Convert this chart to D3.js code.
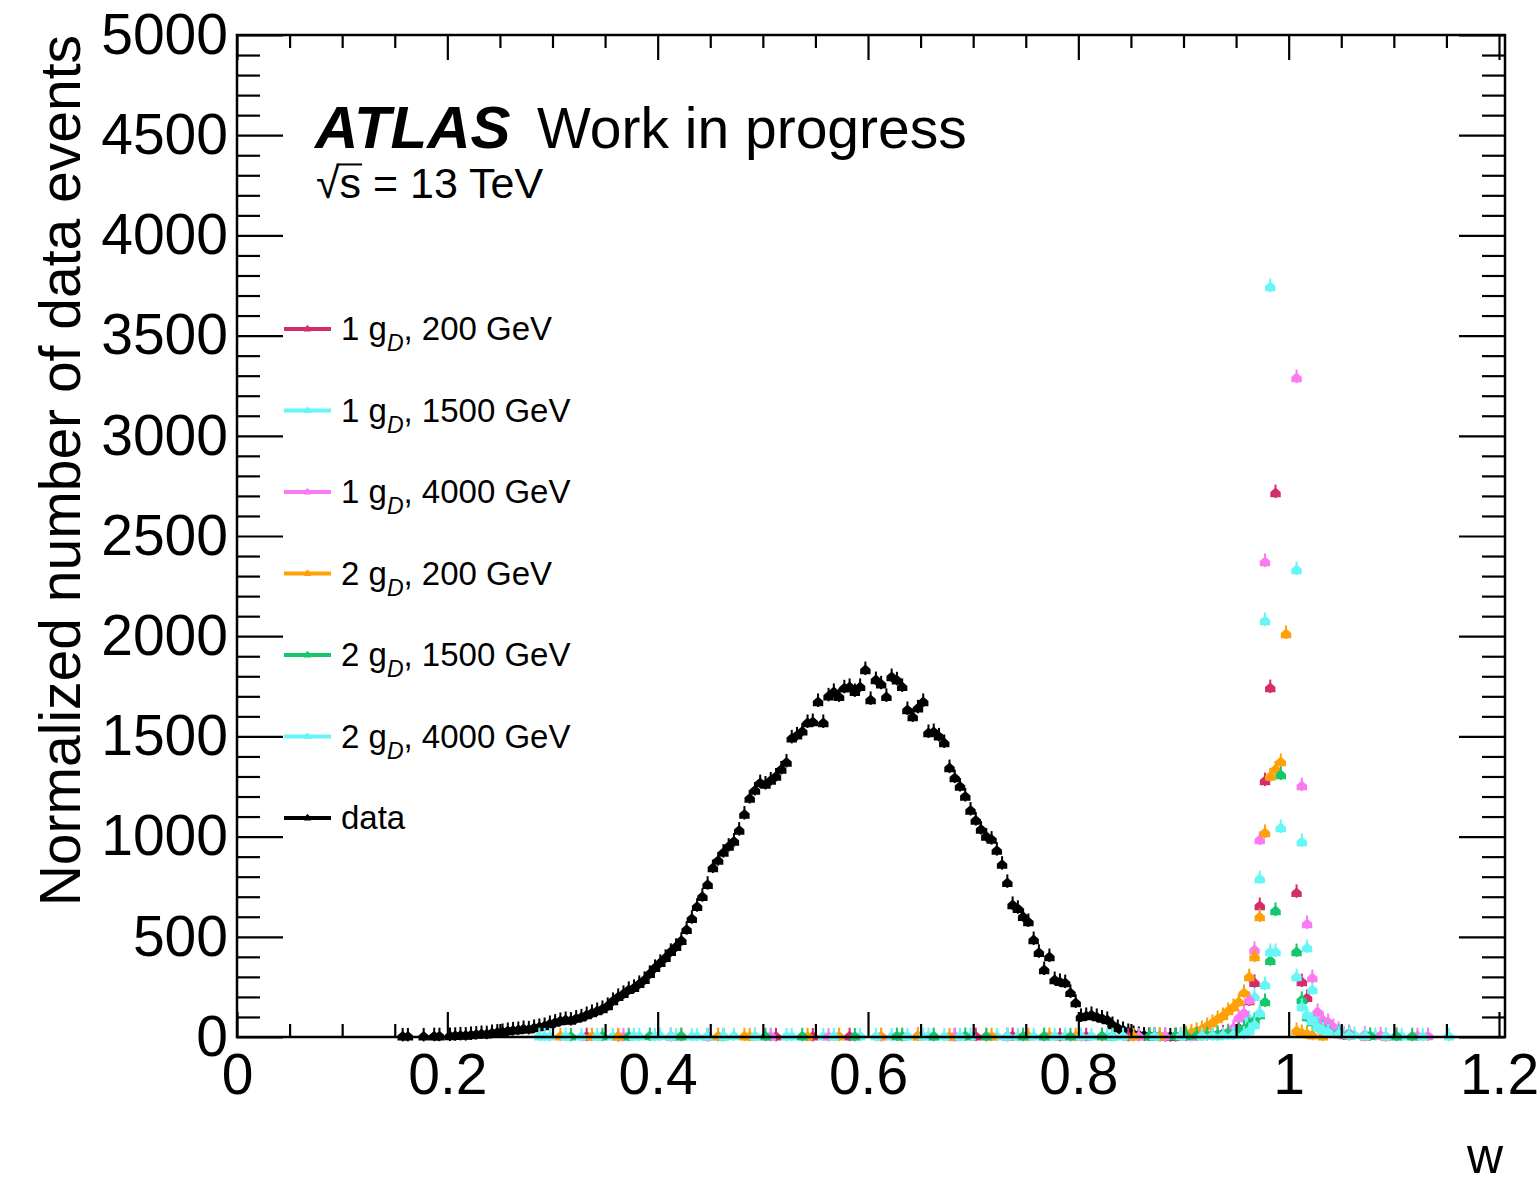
<!DOCTYPE html>
<html><head><meta charset="utf-8">
<script src="https://cdn.jsdelivr.net/npm/d3@7"></script>
<style>
body{margin:0;background:#fff}
svg{display:block;background:#fff}
text{font-family:"Liberation Sans",Arial,Helvetica,sans-serif;fill:#000}
</style>
</head><body>
<svg id="c" width="1538" height="1188"></svg>
<script>
// ---------------- data ----------------
const binWidth = 0.005;
const dataStart = 0.1575;   // centre of first data bin
const dataValues = [
  3,3,0,0,3,0,4,4,0,5, 6,8,7,10,12,15,14,20,22,25,
  30,33,35,40,38,45,50,55,65,72, 80,85,82,92,98,110,120,130,140,155,
  180,200,215,235,245,265,285,315,345,370, 395,425,450,480,535,590,650,700,760,843,
  880,920,950,975,1030,1110,1190,1230,1267,1260, 1280,1300,1335,1370,1490,1505,1525,1567,1572,1672,
  1567,1700,1722,1697,1740,1747,1722,1747,1831,1682, 1781,1760,1697,1796,1780,1747,1632,1597,1640,1672,
  1517,1522,1500,1467,1342,1292,1250,1200,1130,1080, 1035,1000,985,930,860,769,659,640,600,574,
  484,420,334,399,284,275,269,220,170,100, 105,110,100,92,85,60,45,35,25,15,
  10,7,5,5,4,4,3,3
];

// signal samples: [bin centre w, normalized events]; bins above 5000 are off-scale and not listed
const sig1g200 = [
  [0.3325,4],[0.3625,3],[0.4125,4],[0.4475,3],[0.5125,3],[0.5475,3],[0.5825,4],[0.6475,5],[0.6825,3],[0.7025,4],
  [0.7325,4],[0.7375,5],[0.7825,3],[0.8075,4],[0.8475,3],[0.8825,3],[0.8925,4],[0.8975,5],[0.9075,4],[0.9175,6],
  [0.9275,10],[0.9375,18],[0.9475,30],[0.9525,45],[0.9575,100],[0.9625,180],[0.9675,270],[0.9725,654],[0.9775,1277],[0.9825,1741],
  [0.9875,2714],[1.0075,719],[1.0125,274],[1.0175,195],[1.0225,80],[1.0275,60],[1.0325,40],[1.0375,30],[1.0425,22],[1.0475,15],
  [1.0525,10],[1.0575,8],[1.0725,4],[1.0925,3]
];
const sig1g1500 = [
  [0.2875,4],[0.2975,3],[0.3275,3],[0.3575,4],[0.3825,4],[0.4025,5],[0.4175,3],[0.4375,4],[0.4575,3],[0.4725,5],
  [0.5075,4],[0.5275,3],[0.5575,4],[0.5925,4],[0.6225,3],[0.6575,5],[0.6625,4],[0.6975,4],[0.7225,4],[0.7425,3],
  [0.7675,4],[0.7875,5],[0.8125,4],[0.8275,4],[0.8575,3],[0.8775,3],[0.9075,4],[0.9175,5],[0.9325,5],[0.9425,10],
  [0.9525,20],[0.9575,40],[0.9625,90],[0.9675,200],[0.9725,788],[0.9775,2076],[0.9825,3742],[1.0075,2330],[1.0125,973],[1.0175,444],
  [1.0225,235],[1.0275,95],[1.0325,60],[1.0375,40],[1.0425,25],[1.0525,15],[1.0625,10],[1.0825,6],[1.1075,4],[1.1525,3]
];
const sig1g4000 = [
  [0.3675,3],[0.4125,3],[0.5075,4],[0.5625,3],[0.6125,3],[0.6825,4],[0.7325,4],[0.8025,3],[0.8575,3],[0.8825,4],
  [0.9025,4],[0.9125,5],[0.9225,6],[0.9325,10],[0.9425,25],[0.9475,45],[0.9525,95],[0.9575,120],[0.9625,185],[0.9675,434],
  [0.9725,983],[0.9775,2370],[1.0075,3288],[1.0125,1252],[1.0175,564],[1.0225,294],[1.0275,125],[1.0325,85],[1.0375,75],[1.0425,50],
  [1.0475,35],[1.0575,20],[1.0725,12],[1.0875,8],[1.1025,6],[1.1225,5],[1.1325,5]
];
const sig2g200 = [
  [0.3075,4],[0.3375,4],[0.3625,3],[0.4225,5],[0.4575,4],[0.4825,4],[0.4875,3],[0.4925,4],[0.5425,3],[0.5725,4],
  [0.6125,4],[0.6325,3],[0.6475,4],[0.6775,3],[0.7125,5],[0.7175,4],[0.7525,4],[0.7725,5],[0.7975,4],[0.8225,4],
  [0.8525,3],[0.8775,3],[0.8975,6],[0.9025,15],[0.9075,22],[0.9125,30],[0.9175,40],[0.9225,55],[0.9275,70],[0.9325,90],
  [0.9375,105],[0.9425,130],[0.9475,150],[0.9525,175],[0.9575,220],[0.9625,299],[0.9675,399],[0.9725,599],[0.9775,1018],[0.9825,1300],
  [0.9875,1335],[0.9925,1372],[0.9975,2011],[1.0075,30],[1.0125,20],[1.0175,15],[1.0225,8],[1.0325,4]
];
const sig2g1500 = [
  [0.3175,3],[0.3475,4],[0.3725,4],[0.3925,5],[0.4225,4],[0.4625,3],[0.5025,4],[0.5375,4],[0.5875,3],[0.6275,5],
  [0.6325,4],[0.6625,4],[0.6925,5],[0.7125,3],[0.7475,4],[0.7675,4],[0.7925,3],[0.8225,5],[0.8325,4],[0.8675,4],
  [0.8925,5],[0.9025,6],[0.9125,8],[0.9225,10],[0.9325,14],[0.9425,20],[0.9525,30],[0.9575,40],[0.9625,55],[0.9675,80],
  [0.9725,110],[0.9775,175],[0.9825,380],[0.9875,629],[0.9925,1307],[1.0075,424],[1.0125,185],[1.0175,100],[1.0225,75],[1.0275,50],
  [1.0325,40],[1.0375,30],[1.0475,20],[1.0575,12],[1.0775,6],[1.1025,4],[1.1175,4]
];
const sig2g4000 = [
  [0.2925,3],[0.3125,4],[0.3425,4],[0.3775,4],[0.3975,3],[0.4125,4],[0.4325,3],[0.4475,4],[0.4625,4],[0.4925,4],
  [0.5225,3],[0.5675,4],[0.6075,3],[0.6375,4],[0.6525,4],[0.6725,3],[0.6875,4],[0.7325,3],[0.7575,4],[0.7775,4],
  [0.8025,4],[0.8325,3],[0.8425,4],[0.8725,4],[0.8975,5],[0.9175,5],[0.9275,6],[0.9375,8],[0.9475,10],[0.9575,12],
  [0.9625,30],[0.9675,60],[0.9725,120],[0.9775,259],[0.9825,424],[0.9875,424],[0.9925,1043],[1.0075,299],[1.0125,150],[1.0175,110],
  [1.0225,80],[1.0275,50],[1.0325,35],[1.0375,25],[1.0475,15],[1.0575,10],[1.0725,6],[1.0925,5],[1.1275,3]
];

const couplings = ["1","1","1","2","2","2"];
const masses = ["200 GeV","1500 GeV","4000 GeV","200 GeV","1500 GeV","4000 GeV"];
const seriesColors = ["#d22d6d","#66f6f6","#fb7af3","#ffa007","#15c66d","#66f6f6"];
const xTickValues = [0,0.2,0.4,0.6,0.8,1,1.2];
const xTickLabels = ["0","0.2","0.4","0.6","0.8","1","1.2"];
const yTickValues = [0,500,1000,1500,2000,2500,3000,3500,4000,4500,5000];
const yTickLabels = ["0","500","1000","1500","2000","2500","3000","3500","4000","4500","5000"];
const xTitle = "w";
const yTitle = "Normalized number of data events";

// ---------------- drawing ----------------
const svg = d3.select("#c");
const L = 237, R = 1505, T = 35, B = 1037;
const x = d3.scaleLinear().domain([0, 1.2057]).range([L, R]);
const y = d3.scaleLinear().domain([0, 5000]).range([B, T]);

const signalSets = [sig1g200, sig1g1500, sig1g4000, sig2g200, sig2g1500, sig2g4000];
const dataPts = dataValues.map((v,i)=>[dataStart + i*binWidth, v]).filter(d=>d[1]>0);

const plot = svg.append("g");
// ROOT-like small "full triangle" marker as rendered (house-shaped blob)
const markerPath = "M0,-5.5L5.2,-1L5.2,4.2L-5.2,4.2L-5.2,-1Z";
const legendMarker = "M0,-4L3.5,-0.5L3.5,2.5L-3.5,2.5L-3.5,-0.5Z";

function drawSeries(pts, color){
  const g = plot.append("g");
  const vis = pts.filter(d=>d[1] > 0 && d[1] <= 5000);
  g.selectAll("line.h").data(vis).enter().append("line")
    .attr("x1", d=>x(d[0]-binWidth/2)).attr("x2", d=>x(d[0]+binWidth/2))
    .attr("y1", d=>y(d[1])).attr("y2", d=>y(d[1]))
    .attr("stroke", color).attr("stroke-width", 2.5);
  g.selectAll("line.v").data(vis).enter().append("line")
    .attr("x1", d=>x(d[0])).attr("x2", d=>x(d[0]))
    .attr("y1", d=>y(d[1])-8.5).attr("y2", d=>y(d[1])+5)
    .attr("stroke", color).attr("stroke-width", 2);
  g.selectAll("path").data(vis).enter().append("path")
    .attr("d", markerPath)
    .attr("transform", d=>`translate(${x(d[0])},${y(d[1])})`)
    .attr("fill", color);
}

function styleAxis(g){
  g.select(".domain").remove();
  g.selectAll(".tick line").attr("stroke","#000").attr("stroke-width",2.2);
  g.selectAll(".tick text").attr("fill","#000").style("font-size","57px")
    .style("font-family",'"Liberation Sans",Arial,Helvetica,sans-serif');
}
const xMinor = d3.range(0, 1.2001, 0.05).filter(v=>Math.abs(v/0.2 - Math.round(v/0.2))>1e-6);
const yMinor = d3.range(0, 5001, 100).filter(v=>v%500!==0);

svg.append("g").attr("transform",`translate(0,${B})`)
  .call(d3.axisBottom(x).tickValues(xTickValues).tickSize(-25).tickPadding(17).tickFormat((d,i)=>xTickLabels[i])).call(styleAxis);
svg.append("g").attr("transform",`translate(0,${B})`)
  .call(d3.axisBottom(x).tickValues(xMinor).tickSize(-13).tickFormat("")).call(styleAxis);
svg.append("g").attr("transform",`translate(0,${T})`)
  .call(d3.axisTop(x).tickValues(xTickValues).tickSize(-25).tickFormat("")).call(styleAxis);
svg.append("g").attr("transform",`translate(0,${T})`)
  .call(d3.axisTop(x).tickValues(xMinor).tickSize(-13).tickFormat("")).call(styleAxis);
svg.append("g").attr("transform",`translate(${L},0)`)
  .call(d3.axisLeft(y).tickValues(yTickValues).tickSize(-46).tickPadding(9).tickFormat((d,i)=>yTickLabels[i])).call(styleAxis);
svg.append("g").attr("transform",`translate(${L},0)`)
  .call(d3.axisLeft(y).tickValues(yMinor).tickSize(-23).tickFormat("")).call(styleAxis);
svg.append("g").attr("transform",`translate(${R},0)`)
  .call(d3.axisRight(y).tickValues(yTickValues).tickSize(-46).tickFormat("")).call(styleAxis);
svg.append("g").attr("transform",`translate(${R},0)`)
  .call(d3.axisRight(y).tickValues(yMinor).tickSize(-23).tickFormat("")).call(styleAxis);

// marks
drawSeries(dataPts, "#000");
signalSets.forEach((s,i)=>drawSeries(s, seriesColors[i]));

// frame
svg.append("rect").attr("x",L).attr("y",T).attr("width",R-L).attr("height",B-T)
  .attr("fill","none").attr("stroke","#000").attr("stroke-width",2.5);

// titles
svg.append("text").attr("transform",`translate(80,${T}) rotate(-90)`)
  .attr("text-anchor","end").style("font-size","57px").text(yTitle);
svg.append("text").attr("x",1503).attr("y",1173).attr("text-anchor","end")
  .style("font-size","50px").text(xTitle);

// ATLAS label
svg.append("text").attr("x",315).attr("y",148).style("font-size","60px")
  .style("font-weight","bold").style("font-style","italic").text("ATLAS");
svg.append("text").attr("x",537).attr("y",148).style("font-size","57px").text("Work in progress");
const enY = 198, enSize = 43;
const en = svg.append("text").attr("x",316).attr("y",enY).style("font-size",enSize+"px")
  .text("\u221As = 13 TeV");
// bar over the "s" of the square root
{
  const node = en.node();
  const r1 = node.getExtentOfChar(1);
  const r0 = node.getExtentOfChar(0);
  const yb = enY - 0.78*enSize;
  svg.append("line").attr("x1", r0.x + r0.width - 3).attr("x2", r1.x + r1.width + 1)
    .attr("y1", yb).attr("y2", yb).attr("stroke","#000").attr("stroke-width",2);
}

// legend
const legY0 = 329, legDY = 81.5;
const legendItems = couplings.map((c,i)=>({c, m:masses[i], color:seriesColors[i]}));
legendItems.push({data:true, color:"#000"});
const leg = svg.append("g");
legendItems.forEach((it,i)=>{
  const yy = legY0 + i*legDY;
  leg.append("line").attr("x1",284).attr("x2",331).attr("y1",yy).attr("y2",yy)
    .attr("stroke",it.color).attr("stroke-width",4);
  leg.append("path").attr("d", legendMarker)
    .attr("transform",`translate(307.5,${yy})`).attr("fill",it.color);
  const t = leg.append("text").attr("x",341).attr("y",yy+11).style("font-size","33px");
  if(it.data){ t.text("data"); }
  else {
    t.append("tspan").text(it.c + " g");
    t.append("tspan").attr("dy",11).style("font-size","23px").style("font-style","italic").text("D");
    t.append("tspan").attr("dy",-11).text(", " + it.m);
  }
});
</script>
</body></html>
